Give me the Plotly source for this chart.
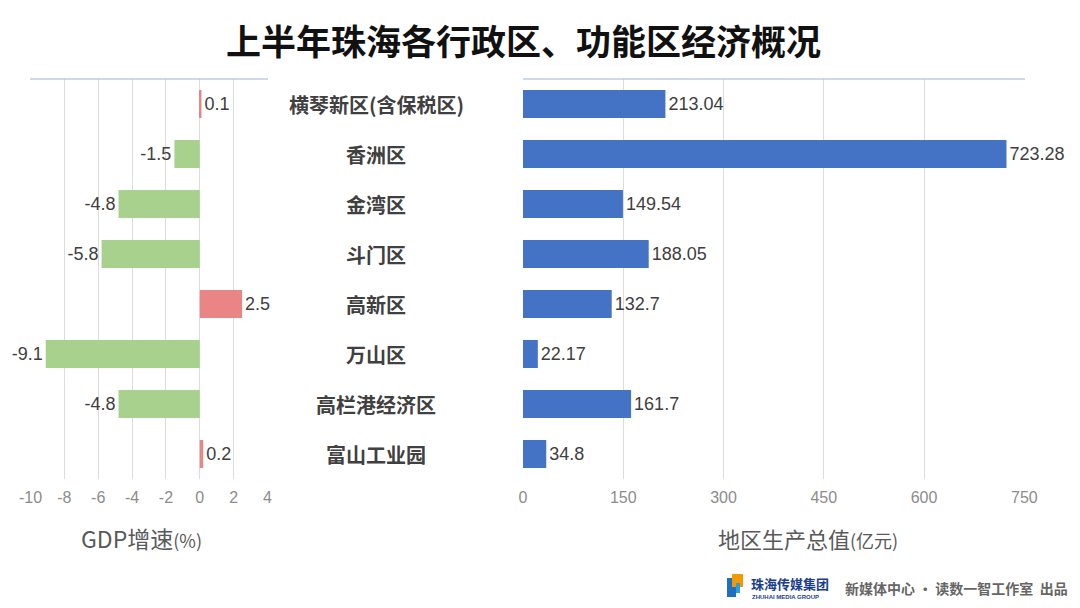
import plotly.graph_objects as go

categories = ["横琴新区(含保税区)", "香洲区", "金湾区", "斗门区", "高新区", "万山区", "高栏港经济区", "富山工业园"]
gdp_growth = [0.1, -1.5, -4.8, -5.8, 2.5, -9.1, -4.8, 0.2]
gdp_value = [213.04, 723.28, 149.54, 188.05, 132.7, 22.17, 161.7, 34.8]
growth_ticks = [-10, -8, -6, -4, -2, 0, 2, 4]
value_ticks = [0, 150, 300, 450, 600, 750]

W, H = 1080, 608
OFF = 8  # page body margin
RED = "#e98585"
GREEN = "#a9d18e"
BLUE = "#4472c4"
FONT = "Noto Sans CJK SC"


def px(x):
    return (x - OFF) / W


def py(y):
    return 1 - (y - OFF) / H


growth_colors = [RED if v >= 0 else GREEN for v in gdp_growth]
growth_text = [f"{v:g}" for v in gdp_growth]
value_text = [f"{v:g}" for v in gdp_value]

fig = go.Figure()
fig.add_trace(go.Bar(
    y=categories, x=gdp_growth, orientation="h", marker_color=growth_colors,
    marker_line_width=0, width=0.56, text=growth_text, textposition="outside",
    textfont=dict(size=18, color="#404040", family="Liberation Sans"),
    cliponaxis=False, xaxis="x", yaxis="y", showlegend=False,
))
fig.add_trace(go.Bar(
    y=categories, x=gdp_value, orientation="h", marker_color=BLUE,
    marker_line_width=0, width=0.56, text=value_text, textposition="outside",
    textfont=dict(size=18, color="#404040", family="Liberation Sans"),
    cliponaxis=False, xaxis="x2", yaxis="y2", showlegend=False,
))

y0 = py(479)
y1 = py(79)

axis_common = dict(
    showgrid=True, gridcolor="#dcdcdc", gridwidth=1, zeroline=False,
    showline=False, ticks="", automargin=False, ticklabelstandoff=7,
    tickfont=dict(size=16, color="#8c8c8c", family="Liberation Sans"),
    fixedrange=True,
)
fig.update_layout(
    width=W, height=H,
    margin=dict(l=0, r=0, t=0, b=0, autoexpand=False),
    paper_bgcolor="white", plot_bgcolor="white",
    font=dict(family=FONT),
    xaxis=dict(domain=[px(30), px(268)], range=[-10.03, 4.03], tickvals=growth_ticks,
               ticktext=[str(t) for t in growth_ticks], **axis_common),
    xaxis2=dict(domain=[px(523), px(1025)], range=[0, 751], tickvals=value_ticks,
                ticktext=[str(t) for t in value_ticks], **axis_common),
    yaxis=dict(domain=[y0, y1], categoryorder="array", categoryarray=categories[::-1],
               showticklabels=False, showgrid=False, zeroline=False, anchor="x", fixedrange=True),
    yaxis2=dict(domain=[y0, y1], categoryorder="array", categoryarray=categories[::-1],
                showticklabels=False, showgrid=False, zeroline=False, anchor="x2", fixedrange=True),
)

# top border lines
for xa, ya in (("x", "y"), ("x2", "y2")):
    fig.add_shape(type="line", xref=f"{xa} domain", yref=f"{ya} domain",
                  x0=0, x1=1, y0=1, y1=1, line=dict(color="#9db3d6", width=1))

# category labels in the middle
for c in categories:
    fig.add_annotation(x=px(376), xref="paper", y=c, yref="y", text=f"<b>{c}</b>",
                       showarrow=False, font=dict(size=20, color="#404040", family=FONT),
                       xanchor="center", yanchor="middle")

# title
fig.add_annotation(x=px(523), y=py(40), xref="paper", yref="paper",
                   text="<b>上半年珠海各行政区、功能区经济概况</b>", showarrow=False,
                   font=dict(size=35, color="#111111", family=FONT), xanchor="center", yanchor="middle")

# axis titles
fig.add_annotation(x=px(141), y=py(538), xref="paper", yref="paper",
                   text="GDP增速<span style='font-size:18px'>(%)</span>", showarrow=False,
                   font=dict(size=23, color="#595959", family=FONT), xanchor="center", yanchor="middle")
fig.add_annotation(x=px(808), y=py(538), xref="paper", yref="paper",
                   text="地区生产总值<span style='font-size:18px'>(亿元)</span>", showarrow=False,
                   font=dict(size=22, color="#595959", family=FONT), xanchor="center", yanchor="middle")

# footer logo
fig.add_shape(type="rect", xref="paper", yref="paper", x0=px(727), x1=px(736),
              y0=py(597), y1=py(578), fillcolor="#1f6fc0", line_width=0)
fig.add_shape(type="rect", xref="paper", yref="paper", x0=px(732), x1=px(743),
              y0=py(587), y1=py(574), fillcolor="#f39800", line_width=0)
fig.add_shape(type="rect", xref="paper", yref="paper", x0=px(736), x1=px(740),
              y0=py(593), y1=py(583), fillcolor="#2a9fd8", line_width=0)
fig.add_annotation(x=px(749), y=py(583), xref="paper", yref="paper",
                   text="<b>珠海传媒集团</b>", showarrow=False,
                   font=dict(size=13, color="#1a3d8f", family=FONT), xanchor="left", yanchor="middle")
fig.add_annotation(x=px(750), y=py(597), xref="paper", yref="paper",
                   text="<b>ZHUHAI MEDIA GROUP</b>", showarrow=False,
                   font=dict(size=6, color="#1a3d8f", family="Liberation Sans"), xanchor="left", yanchor="middle")
fig.add_annotation(x=px(843), y=py(588), xref="paper", yref="paper",
                   text="<b>新媒体中心 · 读数一智工作室  出品</b>", showarrow=False,
                   font=dict(size=14, color="#666666", family=FONT), xanchor="left", yanchor="middle")

fig.write_html("out.html")
